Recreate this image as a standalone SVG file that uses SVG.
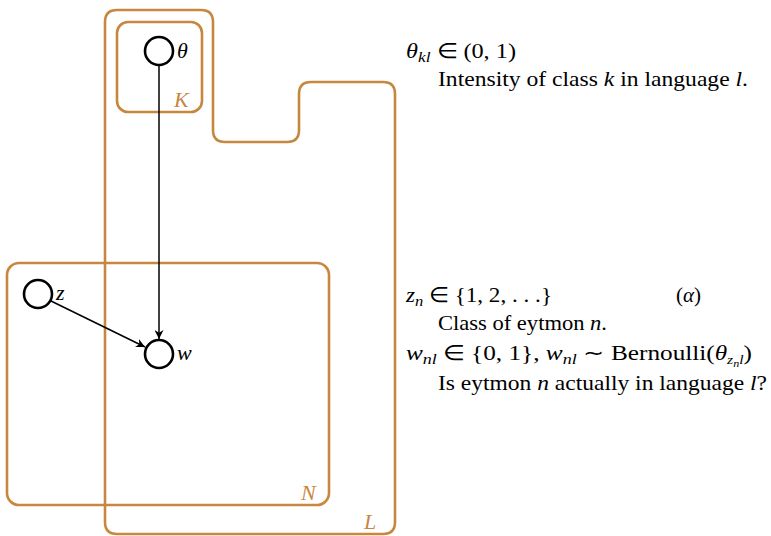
<svg xmlns="http://www.w3.org/2000/svg" width="771" height="536" viewBox="0 0 771 536">
<style>
.plate{fill:none;stroke:#c8873f;stroke-width:2.6}
.plab{font-family:"Liberation Serif",serif;font-style:italic;font-size:22px;fill:#c8873f}
.node{fill:#fff;stroke:#000;stroke-width:2.6}
.nlab{font-family:"Liberation Serif",serif;font-style:italic;font-size:22px;fill:#000}
.edge{stroke:#000;stroke-width:1.5;fill:none}
.t{font-family:"Liberation Serif",serif;font-size:21px;fill:#000}
.i{font-style:italic}
</style>
<defs>
<marker id="ah" viewBox="0 0 10 10" refX="10" refY="5" markerWidth="9" markerHeight="9" markerUnits="userSpaceOnUse" orient="auto">
<path d="M0,0 L10,5 L0,10 L3,5 Z" fill="#000"/>
</marker>
</defs>
<g id="plate-L">
<path class="plate" d="M117,10 H201 Q213,10 213,22 V130 Q213,142 225,142 H287 Q299,142 299,130 V94 Q299,82 311,82 H383 Q395,82 395,94 V522 Q395,534 383,534 H117 Q105,534 105,522 V22 Q105,10 117,10 Z"/>
<text class="plab" x="364" y="529">L</text>
</g>
<g id="plate-K">
<rect class="plate" x="117" y="22" width="85" height="90" rx="11"/>
<text class="plab" x="174" y="107">K</text>
</g>
<g id="plate-N">
<rect class="plate" x="7" y="263" width="322" height="242" rx="12"/>
<text class="plab" x="301" y="500">N</text>
</g>
<g id="connectors">
<line class="edge" x1="159" y1="65" x2="159" y2="339" marker-end="url(#ah)"/>
<line class="edge" x1="51" y1="301" x2="145" y2="347" marker-end="url(#ah)"/>
</g>
<g id="node-theta">
<circle class="node" cx="159" cy="51" r="14"/>
<text class="nlab" x="177" y="58">θ</text>
</g>
<g id="node-z">
<circle class="node" cx="38" cy="294" r="14"/>
<text class="nlab" x="56" y="300">z</text>
</g>
<g id="node-w">
<circle class="node" cx="159" cy="354" r="14"/>
<text class="nlab" x="177" y="360">w</text>
</g>
<g id="legend">
<text class="t" x="406" y="58" textLength="110" lengthAdjust="spacingAndGlyphs"><tspan class="i">θ</tspan><tspan class="i" font-size="15" dy="4">kl</tspan><tspan dy="-4"> ∈ (0, 1)</tspan></text>
<text class="t" x="438" y="86" textLength="310" lengthAdjust="spacingAndGlyphs">Intensity of class <tspan class="i">k</tspan> in language <tspan class="i">l</tspan>.</text>
<text class="t" x="406" y="302" textLength="146" lengthAdjust="spacingAndGlyphs"><tspan class="i">z</tspan><tspan class="i" font-size="15" dy="4">n</tspan><tspan dy="-4"> ∈ {1, 2, . . .}</tspan></text>
<text class="t" x="676" y="302">(<tspan class="i">α</tspan>)</text>
<text class="t" x="438" y="330" textLength="169" lengthAdjust="spacingAndGlyphs">Class of eytmon <tspan class="i">n</tspan>.</text>
<text class="t" x="406" y="360" textLength="346" lengthAdjust="spacingAndGlyphs"><tspan class="i">w</tspan><tspan class="i" font-size="15" dy="4">nl</tspan><tspan dy="-4"> ∈ {0, 1},  </tspan><tspan class="i">w</tspan><tspan class="i" font-size="15" dy="4">nl</tspan><tspan dy="-4"> ∼ Bernoulli(</tspan><tspan class="i">θ</tspan><tspan class="i" font-size="13" dy="4">z</tspan><tspan class="i" font-size="10" dy="3">n</tspan><tspan class="i" font-size="13" dy="-3">l</tspan><tspan dy="-4">)</tspan></text>
<text class="t" x="438" y="390" textLength="329" lengthAdjust="spacingAndGlyphs">Is eytmon <tspan class="i">n</tspan> actually in language <tspan class="i">l</tspan>?</text>
</g>
</svg>
